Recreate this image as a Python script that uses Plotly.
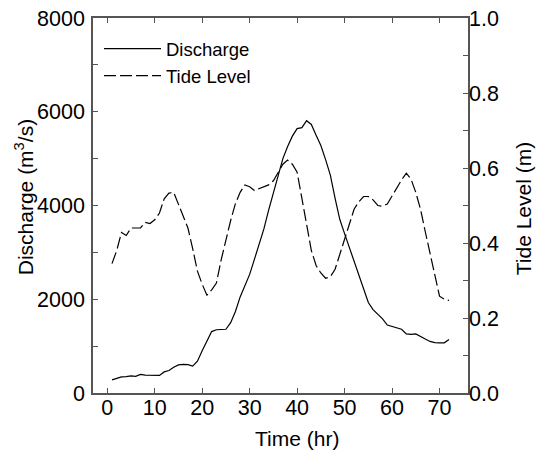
import plotly.graph_objects as go

hours = list(range(1, 73))
discharge = [280, 320, 345, 350, 365, 355, 395, 380, 375, 375,
             375, 450, 480, 550, 600, 610, 605, 575, 680, 900,
             1120, 1310, 1350, 1355, 1360, 1500, 1740, 2050, 2300, 2530,
             2850, 3170, 3500, 3900, 4280, 4650, 5000, 5260, 5480, 5640,
             5660, 5810, 5730, 5500, 5280, 4980, 4650, 4150, 3700, 3400,
             3100, 2830, 2500, 2200, 1930, 1780, 1680, 1580, 1450, 1420,
             1390, 1360, 1260, 1250, 1260, 1200, 1150, 1100, 1075, 1070,
             1070, 1140]
tide = [0.345, 0.38, 0.428, 0.42, 0.44, 0.44, 0.44, 0.455, 0.452, 0.462,
        0.48, 0.518, 0.533, 0.535, 0.505, 0.473, 0.44, 0.385, 0.325, 0.29,
        0.261, 0.275, 0.293, 0.355, 0.41, 0.46, 0.505, 0.535, 0.555, 0.55,
        0.54, 0.545, 0.55, 0.555, 0.566, 0.59, 0.61, 0.621, 0.61, 0.589,
        0.52, 0.44, 0.38, 0.34, 0.32, 0.306, 0.31, 0.33, 0.37, 0.41,
        0.45, 0.49, 0.51, 0.524, 0.524, 0.515, 0.50, 0.498, 0.504, 0.525,
        0.548, 0.568, 0.586, 0.57, 0.535, 0.49, 0.43, 0.37, 0.315, 0.258,
        0.25, 0.247]

x_ticks = [0, 10, 20, 30, 40, 50, 60, 70]
y1_ticks = [0, 2000, 4000, 6000, 8000]
y2_ticks = [0.0, 0.2, 0.4, 0.6, 0.8, 1.0]

x_title = "Time (hr)"
y1_title = "Discharge (m<sup>3</sup>/s)"
y2_title = "Tide Level (m)"

FONT = "Liberation Sans, Arial, sans-serif"
AX = "#555555"
TICK_SIZE = 21.5
TITLE_SIZE = 21

fig = go.Figure()
fig.add_trace(go.Scatter(x=hours, y=discharge, mode="lines", name="Discharge",
                         line=dict(color="black", width=1.2)))
fig.add_trace(go.Scatter(x=hours, y=tide, mode="lines", name="Tide Level", yaxis="y2",
                         line=dict(color="black", width=1.2, dash="12px,4px")))

fig.update_layout(
    width=540, height=452,
    margin=dict(l=93, r=72, t=18, b=59, autoexpand=False),
    paper_bgcolor="white", plot_bgcolor="white",
    font=dict(family=FONT, color="black", size=20),
    showlegend=True,
    legend=dict(x=0.016, y=0.968, xanchor="left", yanchor="top",
                bgcolor="rgba(0,0,0,0)", font=dict(size=18.5, family=FONT),
                tracegroupgap=0, itemwidth=57),
    xaxis=dict(range=[-3, 76], tickmode="array", tickvals=x_ticks,
               ticks="inside", ticklen=5, tickcolor=AX, automargin=False,
               showline=True, linecolor=AX, linewidth=1.5, mirror="ticks",
               showgrid=False, zeroline=False, ticklabelstandoff=-6,
               tickfont=dict(size=TICK_SIZE)),
    yaxis=dict(range=[0, 8000], tickmode="array", tickvals=y1_ticks,
               ticks="inside", ticklen=5, tickcolor=AX, automargin=False,
               minor=dict(dtick=1000, ticks="inside", ticklen=5, tickcolor=AX),
               showline=True, linecolor=AX, linewidth=1.5,
               showgrid=False, zeroline=False, ticklabelstandoff=2,
               tickfont=dict(size=TICK_SIZE)),
    yaxis2=dict(range=[0, 1], tickmode="array", tickvals=y2_ticks, tickformat=".1f",
                overlaying="y", side="right", automargin=False,
                ticks="inside", ticklen=5, tickcolor=AX,
                minor=dict(dtick=0.1, ticks="inside", ticklen=5, tickcolor=AX),
                showline=True, linecolor=AX, linewidth=1.5,
                showgrid=False, zeroline=False, ticklabelstandoff=-5,
                tickfont=dict(size=TICK_SIZE)),
    annotations=[
        dict(text=x_title, xref="paper", yref="paper", x=0.544, y=0,
             xanchor="center", yanchor="middle", yshift=-45, showarrow=False,
             font=dict(size=TITLE_SIZE)),
        dict(text=y1_title, xref="paper", yref="paper", x=0, y=0.522,
             xanchor="center", yanchor="middle", xshift=-69, textangle=-90,
             showarrow=False, font=dict(size=TITLE_SIZE)),
        dict(text=y2_title, xref="paper", yref="paper", x=1, y=0.49,
             xanchor="center", yanchor="middle", xshift=55, textangle=-90,
             showarrow=False, font=dict(size=TITLE_SIZE)),
    ],
)

fig.write_html("out.html", config={"displayModeBar": False},
               post_script="document.body.style.margin='0';document.body.style.overflow='hidden';")
